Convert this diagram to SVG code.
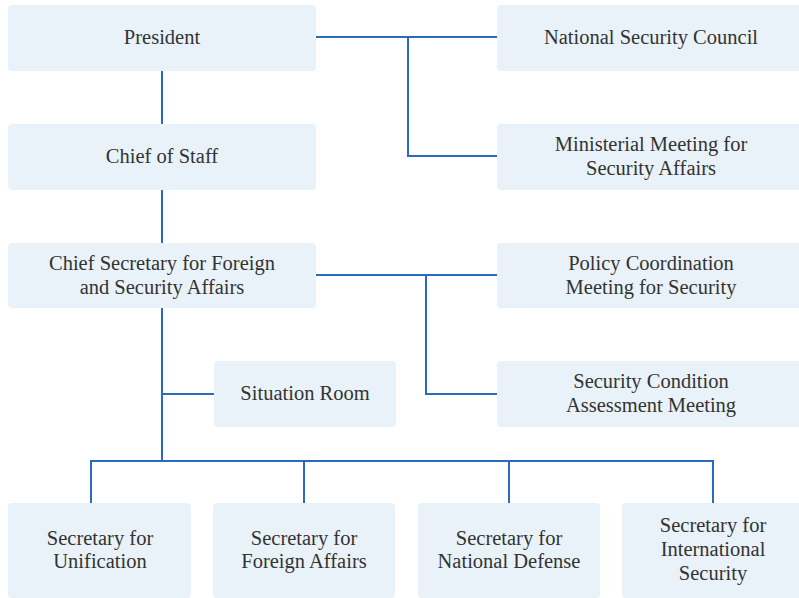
<svg xmlns="http://www.w3.org/2000/svg" width="799" height="598" viewBox="0 0 799 598">
<style>
.box{fill:#e9f2f8;}
.t{font-family:"Liberation Serif","Times New Roman",serif;font-size:20.5px;fill:#333;text-anchor:middle;}
.c{stroke:#2a6bbd;stroke-width:2;fill:none;}
</style>
<rect width="799" height="598" fill="#fff"/>
<g id="connectors">
<path class="c" d="M316 37H497M408 37V156H497"/>
<path class="c" d="M162 71V124M162 190V243M162 308V461"/>
<path class="c" d="M316 275H497M426 275V394H497"/>
<path class="c" d="M162 394H214"/>
<path class="c" d="M91 503V461H713V503M304 461V503M509 461V503"/>
</g>
<g id="president"><rect class="box" x="8" y="5" width="308" height="66" rx="4"/><text class="t" x="162" y="44">President</text></g>
<g id="chief-of-staff"><rect class="box" x="8" y="124" width="308" height="66" rx="4"/><text class="t" x="162" y="163">Chief of Staff</text></g>
<g id="chief-secretary"><rect class="box" x="8" y="243" width="308" height="65" rx="4"/><text class="t" x="162" y="270">Chief Secretary for Foreign</text><text class="t" x="162" y="294">and Security Affairs</text></g>
<g id="nsc"><rect class="box" x="497" y="5" width="306" height="66" rx="4"/><text class="t" x="651" y="44">National Security Council</text></g>
<g id="ministerial"><rect class="box" x="497" y="124" width="306" height="66" rx="4"/><text class="t" x="651" y="151">Ministerial Meeting for</text><text class="t" x="651" y="175">Security Affairs</text></g>
<g id="policy"><rect class="box" x="497" y="243" width="306" height="65" rx="4"/><text class="t" x="651" y="270">Policy Coordination</text><text class="t" x="651" y="294">Meeting for Security</text></g>
<g id="situation-room"><rect class="box" x="214" y="361" width="182" height="66" rx="4"/><text class="t" x="305" y="400">Situation Room</text></g>
<g id="assessment"><rect class="box" x="497" y="361" width="306" height="66" rx="4"/><text class="t" x="651" y="388">Security Condition</text><text class="t" x="651" y="412">Assessment Meeting</text></g>
<g id="unification"><rect class="box" x="8" y="503" width="183" height="95" rx="4"/><text class="t" x="100" y="545">Secretary for</text><text class="t" x="100" y="568">Unification</text></g>
<g id="foreign"><rect class="box" x="213" y="503" width="182" height="95" rx="4"/><text class="t" x="304" y="545">Secretary for</text><text class="t" x="304" y="568">Foreign Affairs</text></g>
<g id="defense"><rect class="box" x="418" y="503" width="182" height="95" rx="4"/><text class="t" x="509" y="545">Secretary for</text><text class="t" x="509" y="568">National Defense</text></g>
<g id="international"><rect class="box" x="622" y="503" width="181" height="95" rx="4"/><text class="t" x="713" y="532">Secretary for</text><text class="t" x="713" y="556">International</text><text class="t" x="713" y="580">Security</text></g>
</svg>
